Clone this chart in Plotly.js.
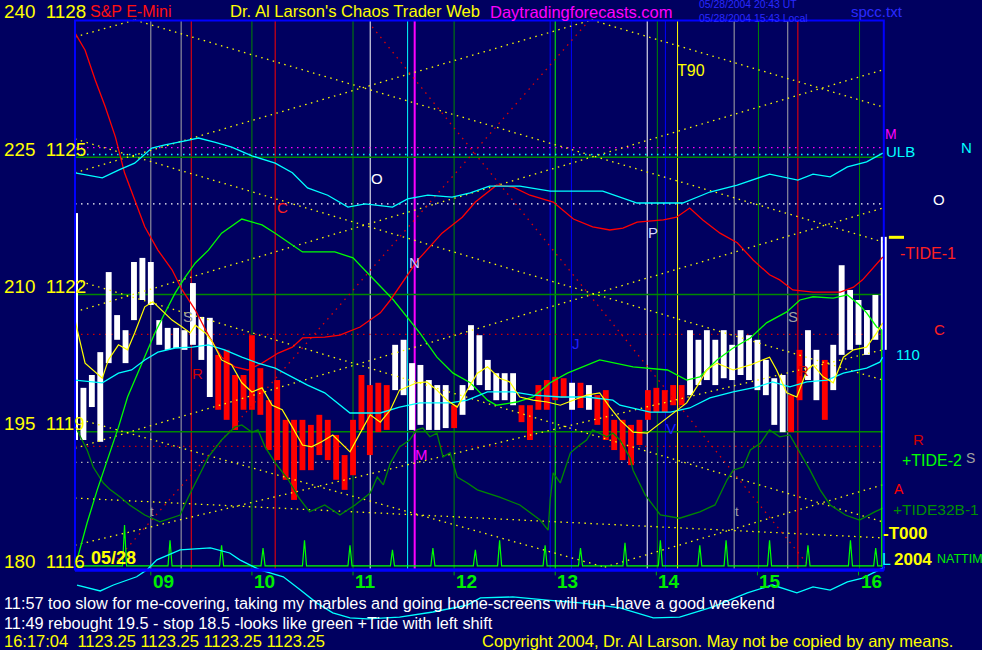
<!DOCTYPE html>
<html><head><meta charset="utf-8">
<script src="https://cdn.plot.ly/plotly-3.0.1.min.js"></script>
<style>html,body{margin:0;padding:0;background:#000060;}#chart{width:982px;height:650px;}</style>
</head><body><div id="chart"></div>
<script>
// ================= DATA (time in decimal hours, price in index points) =================
const barStartHour = 8 + 20/60;      // first 5-minute bar 08:20
const barStepMin = 5;
const barHigh = [1119.96,1120.24,1120.74,1122.49,1121.55,1121.22,1122.71,1122.80,1122.71,1121.44,
 1121.27,1121.27,1121.22,1122.25,1121.51,1121.49,1120.68,1120.79,1120.24,1120.24,
 1121.11,1120.39,1119.69,1120.13,1119.26,1119.26,1119.26,1119.15,1119.37,1119.26,
 1118.93,1118.49,1119.26,1120.24,1120.02,1120.07,1120.02,1120.90,1121.01,1120.50,
 1120.46,1120.13,1120.02,1120.02,1119.58,1120.02,1121.33,1121.11,1120.57,1120.28,
 1120.28,1120.28,1119.58,1119.58,1120.02,1120.13,1120.20,1120.17,1120.07,1120.07,
 1120.02,1119.80,1119.91,1119.26,1119.26,1119.15,1119.26,1119.91,1119.96,1119.91,
 1120.02,1120.02,1121.22,1121.01,1121.22,1121.01,1121.22,1120.90,1121.22,1121.11,
 1121.01,1120.57,1120.17,1120.24,1119.80,1120.79,1121.22,1120.79,1120.57,1120.90,
 1122.64,1122.10,1121.88,1121.66,1121.99,1123.26];
const barLow = [1118.82,1119.54,1118.78,1120.50,1121.01,1120.50,1121.44,1121.88,1121.77,1120.90,
 1120.79,1120.83,1120.79,1120.90,1120.57,1119.76,1119.48,1119.26,1119.04,1119.48,
 1119.48,1119.37,1118.60,1118.38,1117.95,1117.51,1118.16,1118.16,1118.49,1118.38,
 1117.95,1117.73,1118.05,1119.04,1118.49,1118.99,1119.04,1119.91,1119.80,1119.04,
 1119.15,1119.04,1119.04,1119.08,1119.08,1119.37,1119.91,1120.02,1119.91,1119.69,
 1119.69,1119.58,1119.21,1118.82,1119.48,1119.48,1119.69,1119.74,1119.48,1119.52,
 1119.48,1119.15,1118.82,1118.60,1118.38,1118.27,1118.71,1119.26,1119.43,1119.43,
 1119.58,1119.58,1119.80,1120.02,1120.13,1120.02,1120.17,1120.13,1120.24,1120.13,
 1119.91,1119.80,1119.15,1118.99,1118.99,1119.69,1120.13,1119.69,1119.26,1119.91,
 1120.68,1120.79,1120.90,1120.68,1121.01,1120.79];
// u = up bar (white), d = down bar (red)
const barDir = ("uuuuuuuuuuuuuuuu" + "ddddddddddddddddddddd" + "uuuuuuu" + "d" + "uuuuuuu" + "dddddd" +
  "u" + "d" + "u" + "ddddddddddd" + "uuuuuuuuuuuu" + "dd" + "uu" + "d" + "uuuuuuu").split("");
const openRange = {t: 8.27, high: 1123.78, low: 1118.82};
const lastPrice = 1123.25;

const yellowMA = [[8.25,1121.44],[8.35,1120.50],[8.52,1120.17],[8.58,1120.57],[8.68,1120.90],[8.77,1120.79],[8.84,1121.16],[8.94,1121.73],[9.02,1121.84],[9.11,1121.66],
 [9.21,1121.44],[9.31,1121.29],[9.39,1121.16],[9.44,1121.33],[9.54,1121.16],[9.61,1120.96],[9.70,1120.57],[9.80,1120.46],[9.90,1120.07],[10.00,1119.87],
 [10.10,1119.96],[10.20,1119.58],[10.30,1119.48],[10.40,1119.10],[10.50,1118.71],[10.59,1118.67],[10.69,1118.78],[10.80,1118.93],[10.97,1118.56],[11.07,1118.97],
 [11.17,1119.37],[11.27,1119.21],[11.37,1119.48],[11.46,1119.91],[11.63,1120.07],[11.73,1120.09],[11.83,1119.91],[11.93,1119.69],[12.03,1119.54],[12.13,1119.91],
 [12.23,1120.28],[12.33,1120.42],[12.45,1120.17],[12.55,1120.09],[12.65,1119.76],[12.78,1119.69],[12.92,1119.65],[13.05,1119.58],[13.18,1119.69],[13.31,1119.80],
 [13.44,1119.85],[13.54,1119.54],[13.64,1119.26],[13.77,1118.99],[13.91,1118.97],[14.04,1119.19],[14.17,1119.41],[14.30,1119.63],[14.40,1119.98],[14.50,1120.35],
 [14.60,1120.50],[14.76,1120.35],[14.93,1120.46],[15.06,1120.57],[15.12,1120.63],[15.19,1120.35],[15.29,1119.85],[15.39,1119.76],[15.49,1120.35],[15.55,1120.46],
 [15.65,1120.20],[15.75,1120.07],[15.85,1120.63],[15.95,1120.79],[16.08,1120.85],[16.18,1121.16],[16.24,1121.38]];

const cyanLow = [[8.25,1120.13],[8.52,1120.07],[8.68,1120.28],[8.81,1120.35],[8.94,1120.57],[9.07,1120.74],[9.24,1120.83],[9.41,1120.85],[9.57,1120.90],[9.73,1120.79],
 [9.90,1120.63],[10.06,1120.50],[10.23,1120.39],[10.40,1120.20],[10.55,1120.02],[10.72,1119.85],[10.97,1119.41],[11.27,1119.41],[11.46,1119.54],[11.66,1119.63],
 [11.96,1119.63],[12.13,1119.69],[12.33,1119.87],[12.58,1119.87],[12.78,1119.80],[13.05,1119.76],[13.31,1119.76],[13.57,1119.69],[13.64,1119.58],[13.94,1119.43],
 [14.14,1119.43],[14.33,1119.52],[14.53,1119.74],[14.76,1119.87],[15.00,1119.98],[15.15,1120.09],[15.32,1119.98],[15.49,1120.09],[15.69,1120.13],[15.85,1120.28],
 [16.08,1120.39],[16.21,1120.52],[16.24,1120.63]];

const cyanULB = [[8.25,1124.66],[8.52,1124.55],[8.68,1124.72],[8.84,1124.87],[9.01,1125.20],[9.14,1125.27],[9.34,1125.36],[9.47,1125.42],[9.63,1125.33],[9.80,1125.22],
 [10.00,1125.03],[10.23,1124.87],[10.40,1124.66],[10.55,1124.33],[10.75,1124.17],[10.95,1123.91],[11.12,1123.98],[11.39,1123.91],[11.54,1124.09],[11.74,1124.17],
 [11.98,1124.13],[12.16,1124.22],[12.35,1124.37],[12.65,1124.37],[12.95,1124.26],[13.47,1124.26],[13.81,1124.00],[14.26,1124.00],[14.53,1124.24],[14.80,1124.39],
 [15.12,1124.63],[15.40,1124.50],[15.55,1124.63],[15.72,1124.57],[15.89,1124.79],[16.08,1124.90],[16.24,1125.09]];

const cyanBottom = [[8.27,1115.65],[8.50,1115.52],[8.63,1115.65],[8.76,1115.76],[8.86,1115.83],[8.96,1115.98],[9.06,1116.20],[9.29,1116.42],[9.59,1116.46],[9.78,1116.35],
 [9.88,1116.20],[10.08,1115.98],[10.31,1115.83],[10.48,1115.54],[10.64,1115.26],[10.80,1115.04],[10.97,1114.93],[11.14,1114.91],[11.46,1114.95],[11.79,1115.06],
 [12.13,1115.21],[12.26,1115.37],[12.58,1115.39],[12.92,1115.32],[13.25,1115.26],[13.64,1115.15],[13.97,1114.93],[14.23,1114.95],[14.56,1115.17],[14.90,1115.48],
 [15.15,1115.65],[15.39,1115.48],[15.55,1115.61],[15.72,1115.54],[15.89,1115.72],[16.04,1115.80],[16.26,1116.04]];

const tide1Red = [[8.25,1127.72],[8.35,1127.34],[8.45,1126.69],[8.55,1126.10],[8.65,1125.44],[8.74,1124.66],[8.84,1124.07],[8.94,1123.48],[9.07,1122.97],[9.21,1122.54],
 [9.31,1122.10],[9.44,1121.66],[9.57,1121.11],[9.70,1120.63],[9.83,1120.42],[9.96,1120.35],[10.10,1120.50],[10.26,1120.72],[10.40,1120.85],[10.50,1121.05],
 [10.72,1121.07],[10.87,1121.11],[11.07,1121.29],[11.27,1121.60],[11.37,1121.88],[11.64,1122.75],[11.88,1123.34],[12.08,1123.69],[12.21,1124.02],[12.33,1124.22],
 [12.42,1124.39],[12.58,1124.35],[12.75,1124.17],[12.98,1124.02],[13.18,1123.65],[13.37,1123.48],[13.54,1123.41],[13.67,1123.45],[13.81,1123.58],[14.07,1123.63],
 [14.20,1123.69],[14.33,1123.89],[14.46,1123.63],[14.63,1123.34],[14.80,1123.13],[14.96,1122.75],[15.12,1122.43],[15.22,1122.32],[15.35,1122.10],[15.55,1122.05],
 [15.82,1122.05],[15.95,1122.16],[16.04,1122.32],[16.24,1122.82]];

const tide2Green = [[8.27,1116.20],[8.37,1117.01],[8.47,1117.73],[8.58,1118.43],[8.68,1119.10],[8.77,1119.76],[8.87,1120.28],[8.94,1120.63],[9.04,1121.16],[9.14,1121.60],
 [9.24,1122.03],[9.34,1122.38],[9.44,1122.69],[9.57,1122.97],[9.70,1123.34],[9.90,1123.65],[10.10,1123.52],[10.23,1123.34],[10.43,1123.04],[10.50,1122.93],
 [10.82,1122.93],[11.00,1122.80],[11.40,1121.88],[11.53,1121.51],[11.66,1121.16],[11.83,1120.63],[11.99,1120.28],[12.16,1120.07],[12.33,1119.69],[12.42,1119.58],
 [12.62,1119.65],[12.78,1119.76],[12.95,1120.07],[13.12,1120.28],[13.27,1120.42],[13.44,1120.57],[13.77,1120.42],[14.11,1120.35],[14.30,1120.13],[14.43,1120.20],
 [14.60,1120.57],[14.76,1120.83],[14.93,1121.05],[15.09,1121.38],[15.29,1121.62],[15.42,1121.88],[15.55,1121.95],[15.75,1121.92],[15.89,1121.99],[16.01,1121.77],
 [16.08,1121.60],[16.18,1121.29],[16.23,1121.22],[16.23,1116.05]];

const tide32Dark = [[8.27,1119.04],[8.37,1118.60],[8.43,1118.23],[8.53,1117.88],[8.60,1117.73],[8.70,1117.57],[8.79,1117.40],[8.94,1117.18],[9.09,1117.03],[9.29,1117.18],
 [9.37,1117.57],[9.57,1118.45],[9.70,1118.82],[9.83,1119.10],[9.90,1119.15],[10.00,1118.99],[10.06,1119.04],[10.13,1118.67],[10.23,1118.32],[10.36,1117.95],
 [10.46,1117.57],[10.57,1117.25],[10.72,1117.40],[10.87,1117.18],[11.02,1117.40],[11.17,1117.66],[11.24,1118.01],[11.30,1117.84],[11.37,1118.32],[11.46,1118.67],
 [11.56,1118.82],[11.63,1119.04],[11.69,1119.08],[11.76,1118.89],[11.83,1118.97],[11.89,1118.45],[11.96,1118.54],[12.03,1118.01],[12.13,1117.88],[12.23,1117.73],
 [12.45,1117.57],[12.65,1117.40],[12.85,1117.07],[12.93,1116.85],[12.95,1117.51],[12.98,1118.10],[13.05,1117.88],[13.15,1118.54],[13.22,1118.67],[13.31,1118.82],
 [13.37,1119.04],[13.44,1118.97],[13.51,1118.89],[13.57,1118.97],[13.64,1118.82],[13.74,1118.43],[13.77,1118.16],[13.89,1117.62],[14.04,1117.18],[14.23,1117.11],
 [14.43,1117.25],[14.58,1117.40],[14.65,1117.73],[14.70,1117.95],[14.76,1118.16],[14.86,1118.23],[14.93,1118.60],[15.03,1118.75],[15.12,1119.04],[15.22,1118.89],
 [15.32,1118.93],[15.39,1118.67],[15.45,1118.45],[15.52,1118.16],[15.62,1117.73],[15.72,1117.40],[15.87,1117.18],[16.01,1117.07],[16.16,1117.25],[16.24,1117.33]];

const nattimBase = 1116.07;
const nattimSpikeT = [8.74,9.19,9.70,10.11,10.52,10.97,11.39,11.79,12.21,12.45,12.90,13.25,13.69,14.04,14.43,14.69,15.12,15.50,15.92,16.17];
const nattimSpikeP = [1116.96,1116.63,1116.52,1116.46,1116.63,1116.52,1116.42,1116.46,1116.42,1116.63,1116.52,1116.46,1116.57,1116.63,1116.52,1116.63,1116.63,1116.52,1116.63,1116.46];

// time/price lattice lines: [t0, p0, t1, p1]
const latticeYellow = [
 [8.25,1127.63, 8.84,1128.00], [8.84,1128.00, 16.24,1123.15],
 [8.25,1124.66, 13.36,1128.00], [13.36,1128.00, 16.24,1126.10],
 [8.25,1125.40, 16.24,1120.13], [8.25,1121.62, 16.24,1126.91],
 [8.25,1122.32, 16.24,1117.03], [8.25,1118.64, 16.24,1123.89],
 [8.25,1119.30, 13.49,1116.04], [8.25,1116.52, 16.24,1120.79],
 [13.49,1116.04, 16.24,1117.84], [8.25,1117.55, 16.24,1116.68]];
const latticeRed = [[11.19,1127.85, 15.52,1116.04], [13.34,1128.00, 8.60,1116.04]];

// vertical time markers and horizontal price levels
const vlineTimes = [9.00,9.30,9.40,10.00,10.23,11.00,11.17,11.54,11.61,12.00,12.95,13.00,13.16,13.91,14.01,14.09,14.21,14.77,15.01,15.30,15.40,16.01];
const vlineKind  = ['gray','gray','red','green','red','green','white','cyan','magenta','green','blue','lime','blue','white','green','blue','yellow','gray','green','gray','red','green'];
const levelPrices = [1125.21,1125.06,1123.98,1121.13,1118.68,1118.33];
const levelKind   = ['magenta','cyan','white','red','red','gray'];
const gridPrices = [1116,1119,1122,1125,1128];
const gridAlt    = [180,195,210,225,240];
const hourTicks  = [9,10,11,12,13,14,15,16];
const hourLabels = ['09','10','11','12','13','14','15','16'];

// ================= STYLE =================
const BG = '#000060';
const FONT = 'Liberation Sans, Arial, sans-serif';
const COL = {gray:'#a8a8a8', red:'#ff0000', green:'#008800', white:'#ffffff', cyan:'#00ffff',
  magenta:'#ff00ff', blue:'#0000ff', lime:'#00ff00', yellow:'#ffff00'};
const LEVELCOL = {magenta:'#ff00ff', cyan:'#00ffff', white:'#ffffff', red:'#d00000', gray:'#b0b0b0'};
const T0 = 8.25, T1 = 16.25, PBOT = 1116.0, PTOP = 1128.0;

function pairs(a){ return {x:a.map(d=>d[0]), y:a.map(d=>d[1])}; }
function segs(list){ const x=[],y=[]; list.forEach(s=>{x.push(s[0],s[2],null); y.push(s[1],s[3],null);}); return {x,y}; }
function line(a, color, width, dash){ const p=pairs(a); return {type:'scatter',mode:'lines',x:p.x,y:p.y,line:{color,width,dash:dash||'solid'},hoverinfo:'skip'}; }

const barT = barHigh.map((_,i)=> barStartHour + i*barStepMin/60);
function barTrace(dir, color){
  const x=[],base=[],h=[];
  barDir.forEach((d,i)=>{ if(d===dir){ x.push(barT[i]); base.push(barLow[i]); h.push(barHigh[i]-barLow[i]); } });
  return {type:'bar',x,y:h,base,width:0.058,marker:{color,line:{width:0}},hoverinfo:'skip'};
}

const traces = [];
const ly = segs(latticeYellow);
traces.push({type:'scatter',mode:'lines',x:ly.x,y:ly.y,line:{color:'#ffff00',width:1.3,dash:'1.5px,4.5px'},hoverinfo:'skip'});
const lr = segs(latticeRed);
traces.push({type:'scatter',mode:'lines',x:lr.x,y:lr.y,line:{color:'#e00000',width:1.3,dash:'1.5px,5px'},hoverinfo:'skip'});
traces.push(barTrace('u','#ffffff'));
traces.push(barTrace('d','#ff0000'));
traces.push({type:'scatter',mode:'lines',x:[openRange.t,openRange.t],y:[openRange.low,openRange.high],line:{color:'#ffffff',width:2},hoverinfo:'skip'});
// NATTIM spikes
(function(){
  const x=[T0],y=[nattimBase];
  nattimSpikeT.forEach((t,i)=>{ x.push(t-0.02,t,t+0.02); y.push(nattimBase,nattimSpikeP[i],nattimBase); });
  x.push(16.24); y.push(nattimBase);
  traces.push({type:'scatter',mode:'lines',x,y,line:{color:'#00ff00',width:1.2},hoverinfo:'skip'});
})();
traces.push(line(tide32Dark,'#008800',1.3));
traces.push(line(tide2Green,'#00ff00',1.3));
traces.push(line(tide1Red,'#ff0000',1.3));
traces.push(line(cyanULB,'#00ffff',1.3));
traces.push(line(cyanLow,'#00ffff',1.3));
traces.push(line(cyanBottom,'#00ffff',1.3));
traces.push(line(yellowMA,'#ffff00',1.2));

const shapes = [];
vlineTimes.forEach((t,i)=>{
  shapes.push({type:'line',xref:'x',yref:'y',x0:t,x1:t,y0:PBOT,y1:PTOP,layer:'below',
    line:{color:COL[vlineKind[i]],width:vlineKind[i]==='magenta'?2:1}});
});
[1119,1122,1125].forEach(p=>{
  shapes.push({type:'line',xref:'x',yref:'y',x0:T0,x1:16.24,y0:p,y1:p,layer:'below',line:{color:'#008800',width:1.3}});
});
levelPrices.forEach((p,i)=>{
  shapes.push({type:'line',xref:'x',yref:'y',x0:T0,x1:16.24,y0:p,y1:p,layer:'below',
    line:{color:LEVELCOL[levelKind[i]],width:1.3,dash:'1.5px,4.5px'}});
});
hourTicks.forEach(h=>{
  shapes.push({type:'line',xref:'x',yref:'y',x0:h,x1:h,y0:1115.86,y1:PBOT,line:{color:'#00aa00',width:1}});
});
shapes.push({type:'rect',xref:'x',yref:'y',x0:T0,x1:T1,y0:PBOT-0.01,y1:PTOP-0.01,line:{color:'#0000ff',width:2},layer:'above'});
shapes.push({type:'line',xref:'x',yref:'y',x0:T0,x1:T1,y0:PBOT-0.03,y1:PBOT-0.03,line:{color:'#0000ff',width:3}});
shapes.push({type:'line',xref:'x',yref:'y',x0:16.30,x1:16.45,y0:lastPrice,y1:lastPrice,line:{color:'#ffff00',width:3}});

const W=982, H=650;
function lab(text,x,y,color,size,anchor,bold){
  return {text: bold?('<b>'+text+'</b>'):text, x:x/W, y:1-y/H, xref:'paper', yref:'paper', xanchor:anchor||'center', yanchor:'middle',
    align: anchor||'center', showarrow:false, font:{family:FONT,size,color}, borderpad:0};
}
const NB='\u00a0';
const ann = [];
ann.push(lab('S&P E-Mini',89,12,'#ff1010',16,'left'));
ann.push(lab("Dr. Al Larson's Chaos Trader Web",229,12,'#ffff00',16.6,'left'));
ann.push(lab('Daytradingforecasts.com',489,12,'#ff00ff',16.5,'left'));
ann.push(lab('05/28/2004 20:43 UT<br>05/28/2004 15:43 Local',698,11,'#2a2aff',10.4,'left'));
ann.push(lab('spcc.txt',850,11,'#2a2aff',15,'left'));
gridPrices.forEach((p,i)=>{
  ann.push({text:gridAlt[i]+NB+NB+p, x:3/W, xref:'paper', y:p, yref:'y', yshift:8, xanchor:'left', yanchor:'middle',
    showarrow:false, font:{family:FONT,size:18.8,color:'#ffff00'}, borderpad:0});
});
hourTicks.forEach((h,i)=>{
  ann.push({text:'<b>'+hourLabels[i]+'</b>', x:h, xref:'x', xshift:1, y:1-581/H, yref:'paper', xanchor:'left', yanchor:'middle',
    showarrow:false, font:{family:FONT,size:19,color:'#00ee00'}, borderpad:0});
});
// footer
ann.push(lab('11:57 too slow for me-covering, taking my marbles and going home-screens will run -have a good weekend',3,603,'#ffffff',16.3,'left'));
ann.push(lab('11:49 rebought 19.5 - stop 18.5 -looks like green +Tide with left shift',3,623,'#ffffff',16.3,'left'));
ann.push(lab('16:17:04'+NB+NB+'1123.25 1123.25 1123.25 1123.25',3,641,'#ffff00',16.5,'left'));
ann.push(lab('Copyright 2004, Dr. Al Larson. May not be copied by any means.',481,641,'#ffff00',16.5,'left'));
// in-plot markers
ann.push(lab('T90',691,70,'#ffff00',16));
ann.push(lab('O',377,179,'#ffffff',15));
ann.push(lab('C',282,207,'#ff2020',15));
ann.push(lab('P',653,233,'#d8d8ff',15));
ann.push(lab('N',414,262,'#c8c8ff',15));
ann.push(lab('S',188,317,'#a0a0a0',15));
ann.push(lab('R',197,373,'#d00000',15));
ann.push(lab('S',793,317,'#a0a0a0',15));
ann.push(lab('R',803,370,'#d00000',15));
ann.push(lab('J',576,343,'#2020ff',15));
ann.push(lab('V',671,428,'#2020ff',15));
ann.push(lab('M',421,455,'#ff00ff',15));
ann.push(lab('t',152,511,'#a0a0a0',13));
ann.push(lab('t',737,511,'#a0a0a0',13));
ann.push(lab('05/28',90,558,'#ffff00',18,'left',true));
// right side labels
ann.push(lab('M',891,134,'#ff00ff',14));
ann.push(lab('ULB',885,151,'#00ffff',15,'left'));
ann.push(lab('N',966,148,'#00ffff',15));
ann.push(lab('O',939,199,'#ffffff',15));
ann.push(lab('-TIDE-1',928,253,'#ff2020',16));
ann.push(lab('C',939,329,'#ff2020',15));
ann.push(lab('110',908,354,'#00ffff',15));
ann.push(lab('R',918,439,'#d00000',15));
ann.push(lab('+TIDE-2',901,460,'#00ff00',16,'left'));
ann.push(lab('S',970,458,'#a0a0a0',14));
ann.push(lab('A',899,489,'#ff0000',14));
ann.push(lab('+TIDE32B-1',892,509,'#009000',15.5,'left'));
ann.push(lab('-T000',905,533,'#ffff00',17,'center',true));
ann.push(lab('L',886,559,'#00ffff',16));
ann.push(lab('2004',893,559,'#ffff00',17,'left',true));
ann.push(lab('NATTIM',936,559,'#00ee00',12.5,'left'));

const layout = {
  width:W, height:H, margin:{l:0,r:0,t:0,b:0},
  paper_bgcolor:BG, plot_bgcolor:BG, showlegend:false, barmode:'overlay',
  xaxis:{range:[7.5082,17.2213], visible:false, fixedrange:true},
  yaxis:{range:[1114.2295,1128.437], visible:false, fixedrange:true},
  shapes, annotations:ann
};
Plotly.newPlot('chart', traces, layout, {displayModeBar:false, staticPlot:true});
</script></body></html>
